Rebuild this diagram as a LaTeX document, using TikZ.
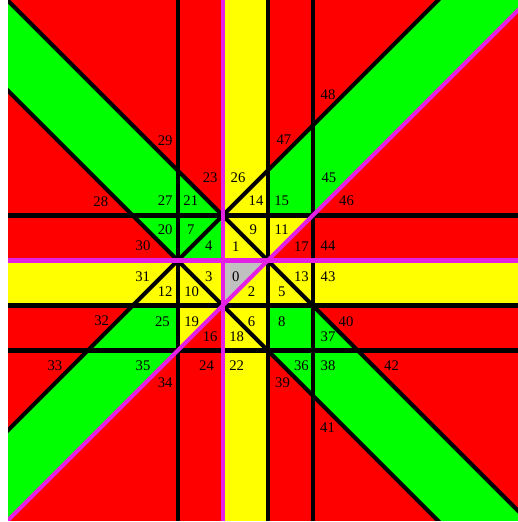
\documentclass[tikz,border=0pt]{standalone}
\usepackage{fontspec}
\setmainfont{Liberation Serif}
\definecolor{fred}{RGB}{255,0,0}
\definecolor{fgreen}{RGB}{0,255,0}
\definecolor{fyellow}{RGB}{255,255,0}
\definecolor{fgray}{RGB}{192,192,192}
\definecolor{fmagenta}{RGB}{228,32,228}
\tikzset{
  redface/.style={fill=fred},
  greenface/.style={fill=fgreen},
  yellowface/.style={fill=fyellow},
  grayface/.style={fill=fgray},
  bline/.style={draw=black, line width=2.6pt},
  mline/.style={draw=fmagenta, line width=2.6pt},
  flabel/.style={inner sep=0pt, font=\fontsize{9.3}{11}\selectfont},
}

\begin{document}
\begin{tikzpicture}
    \useasboundingbox (-4.95,-5.81) rectangle (6.56,5.79);
    \begin{scope}
    \clip (-4.77,-5.77) rectangle (6.56,5.77);
    % faces
    \fill[redface] (-5,-6) rectangle (7,6);
    \fill[greenface] (-7,-6) -- (5,6) -- (7,6) -- (-5,-6) -- cycle;
    \fill[greenface] (-5,6) -- (7,-6) -- (5,-6) -- (-7,6) -- cycle;
    \fill[yellowface] (0,-6) rectangle (1,6);
    \fill[yellowface] (-6,-1) rectangle (7,0);
    \fill[yellowface] (1,0) -- (1,1) -- (2,1) -- cycle;
    \fill[yellowface] (-1,-1) -- (-1,-2) -- (0,-1) -- cycle;
    \fill[grayface] (0,0) -- (1,0) -- (0,-1) -- cycle;
    % black lines
    \draw[bline] (-1,-6) -- (-1,6);
    \draw[bline] (1,-6) -- (1,6);
    \draw[bline] (2,-6) -- (2,6);
    \draw[bline] (-5,1) -- (7,1);
    \draw[bline] (-5,-1) -- (7,-1);
    \draw[bline] (-5,-2) -- (7,-2);
    \draw[bline] (-7,-6) -- (5,6);
    \draw[bline] (-5,6) -- (7,-6);
    \draw[bline] (-7,6) -- (5,-6);
    % magenta lines
    \draw[mline] (0,-6) -- (0,6);
    \draw[mline] (-5,0) -- (7,0);
    \draw[mline] (-5,-6) -- (7,6);
    \end{scope}
    % face numbers
    \node[flabel] (f0) at (0.29,-0.36) {0};
    \node[flabel] (f1) at (0.29,0.32) {1};
    \node[flabel] (f2) at (0.64,-0.69) {2};
    \node[flabel] (f3) at (-0.31,-0.36) {3};
    \node[flabel] (f4) at (-0.31,0.32) {4};
    \node[flabel] (f5) at (1.31,-0.69) {5};
    \node[flabel] (f6) at (0.64,-1.36) {6};
    \node[flabel] (f7) at (-0.71,0.68) {7};
    \node[flabel] (f8) at (1.31,-1.36) {8};
    \node[flabel] (f9) at (0.68,0.68) {9};
    \node[flabel] (f10) at (-0.69,-0.69) {10};
    \node[flabel] (f11) at (1.31,0.68) {11};
    \node[flabel] (f12) at (-1.28,-0.69) {12};
    \node[flabel] (f13) at (1.75,-0.36) {13};
    \node[flabel] (f14) at (0.74,1.34) {14};
    \node[flabel] (f15) at (1.31,1.34) {15};
    \node[flabel] (f16) at (-0.28,-1.69) {16};
    \node[flabel] (f17) at (1.75,0.32) {17};
    \node[flabel] (f18) at (0.31,-1.69) {18};
    \node[flabel] (f19) at (-0.69,-1.36) {19};
    \node[flabel] (f20) at (-1.28,0.68) {20};
    \node[flabel] (f21) at (-0.71,1.34) {21};
    \node[flabel] (f22) at (0.31,-2.34) {22};
    \node[flabel] (f23) at (-0.28,1.83) {23};
    \node[flabel] (f24) at (-0.36,-2.34) {24};
    \node[flabel] (f25) at (-1.34,-1.36) {25};
    \node[flabel] (f26) at (0.34,1.83) {26};
    \node[flabel] (f27) at (-1.28,1.34) {27};
    \node[flabel] (f28) at (-2.71,1.31) {28};
    \node[flabel] (f29) at (-1.28,2.66) {29};
    \node[flabel] (f30) at (-1.77,0.32) {30};
    \node[flabel] (f31) at (-1.78,-0.36) {31};
    \node[flabel] (f32) at (-2.69,-1.34) {32};
    \node[flabel] (f33) at (-3.73,-2.34) {33};
    \node[flabel] (f34) at (-1.28,-2.72) {34};
    \node[flabel] (f35) at (-1.77,-2.34) {35};
    \node[flabel] (f36) at (1.75,-2.34) {36};
    \node[flabel] (f37) at (2.34,-1.69) {37};
    \node[flabel] (f38) at (2.34,-2.34) {38};
    \node[flabel] (f39) at (1.33,-2.72) {39};
    \node[flabel] (f40) at (2.74,-1.36) {40};
    \node[flabel] (f41) at (2.33,-3.71) {41};
    \node[flabel] (f42) at (3.75,-2.34) {42};
    \node[flabel] (f43) at (2.34,-0.36) {43};
    \node[flabel] (f44) at (2.34,0.32) {44};
    \node[flabel] (f45) at (2.36,1.83) {45};
    \node[flabel] (f46) at (2.75,1.34) {46};
    \node[flabel] (f47) at (1.36,2.68) {47};
    \node[flabel] (f48) at (2.34,3.69) {48};
\end{tikzpicture}
\end{document}
